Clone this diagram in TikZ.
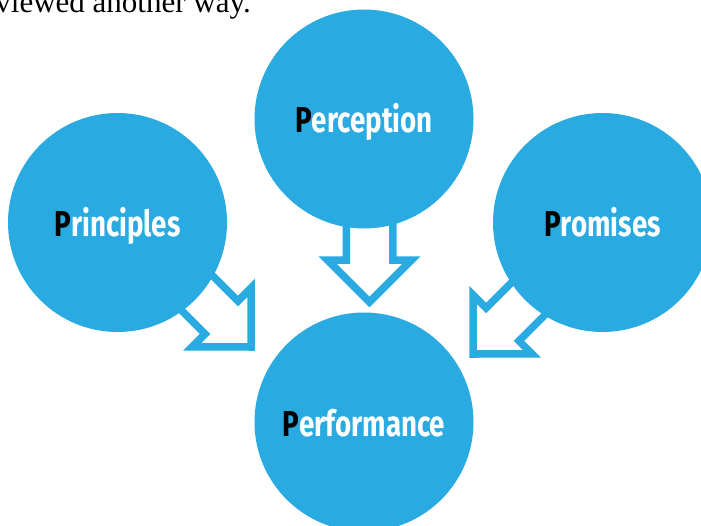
\documentclass[tikz,border=0pt]{standalone}
\usepackage{fontspec}
\usepackage{tikz}
\usetikzlibrary{shapes.arrows}

\newfontfamily\discfont{Fira Sans}[FakeStretch=0.77]
\newfontfamily\leadfont{Liberation Serif}
\definecolor{discblue}{HTML}{29ABE2}

\begin{document}
\begin{tikzpicture}[x=1pt, y=-1pt,
  disc/.style={circle, fill=discblue, minimum size=219pt, inner sep=0pt, text=white,
    text height=28pt, text depth=0pt, font=\discfont\bfseries\fontsize{36}{40}\selectfont},
  hollow/.style={single arrow, draw=discblue, fill=white, line width=7.5pt, outer sep=0pt,
    inner xsep=0pt, inner ysep=19.5pt, single arrow head extend=18.5pt,
    single arrow tip angle=90, minimum height=120pt, anchor=tip}]
  \fill[white] (0,0) rectangle (701,526);
  \useasboundingbox (0,0) rectangle (701,526);
  \node (lead) [anchor=base east, inner sep=0pt, font=\leadfont\fontsize{31}{36}\selectfont] at (251,13) {viewed another way.};
  % hollow arrows first, the discs cover their tails
  \node (arrowl) [hollow, rotate=-45] at (251,347) {};
  \node (arrowm) [hollow, rotate=-90] at (369.5,302) {};
  \node (arrowr) [hollow, rotate=-135] at (473,354) {};
  \node (perception) [disc] at (364,119) {\textcolor{black}{P}erception};
  \node (principles) [disc] at (117.5,222.5) {\textcolor{black}{P}rinciples};
  \node (promises) [disc] at (602.5,222.5) {\textcolor{black}{P}romises};
  \node (performance) [disc] at (364,422) {\textcolor{black}{P}erformance};
\end{tikzpicture}
\end{document}
